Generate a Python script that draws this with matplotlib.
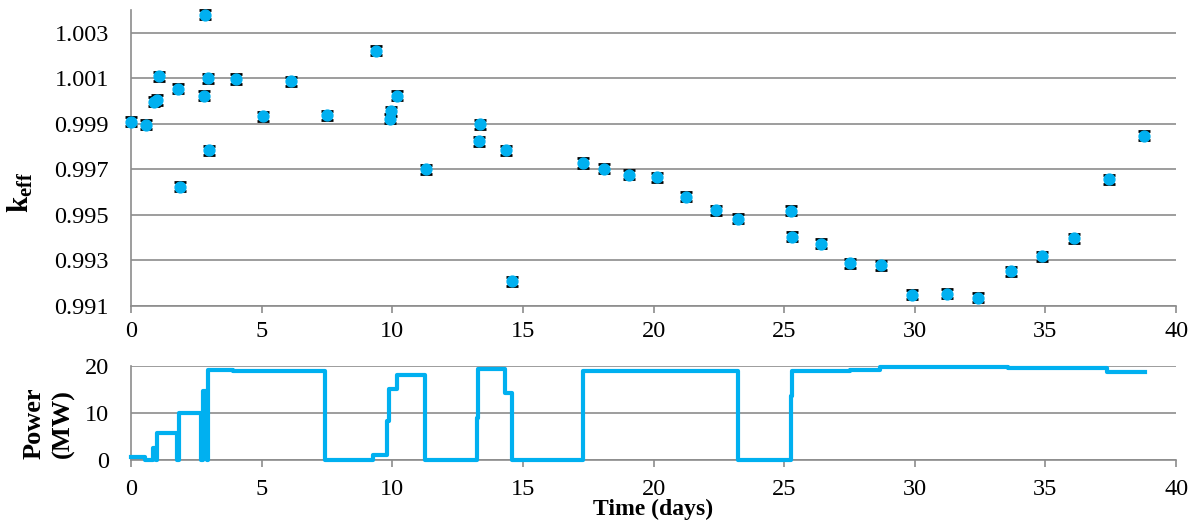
import matplotlib
matplotlib.use("Agg")
import matplotlib.pyplot as plt

plt.rcParams['font.family'] = ['Liberation Serif', 'DejaVu Serif']
plt.rcParams['mathtext.fontset'] = 'custom'
plt.rcParams['mathtext.rm'] = 'Liberation Serif'
plt.rcParams['mathtext.bf'] = 'Liberation Serif:bold'

# k_eff measurements (days, value)
k_time = [0, 0.57, 0.89, 1.0, 1.08, 1.79, 1.89, 2.78, 2.83, 2.93, 2.97, 4.02, 5.05,
          6.11, 7.49, 9.39, 9.91, 9.95, 10.17, 11.28, 13.31, 13.36, 14.35, 14.6,
          17.29, 18.1, 19.06, 20.15, 21.23, 22.4, 23.23, 25.26, 25.3, 26.4, 27.53,
          28.72, 29.91, 31.22, 32.42, 33.68, 34.88, 36.1, 37.42, 38.78]
k_eff = [0.99910, 0.99896, 0.99998, 1.00005, 1.00109, 1.00055, 0.99623, 1.00023,
         1.00379, 1.00101, 0.99784, 1.00097, 0.99934, 1.00088, 0.99938, 1.00221,
         0.99923, 0.99956, 1.00024, 0.99700, 0.99823, 0.99899, 0.99784, 0.99209,
         0.99728, 0.99703, 0.99677, 0.99665, 0.99580, 0.99521, 0.99484, 0.99518,
         0.99405, 0.99373, 0.99288, 0.99278, 0.99149, 0.99153, 0.99136, 0.99253,
         0.99318, 0.99398, 0.99656, 0.99847]
k_err = 0.0002

# power history (step changes)
p_time = [0, 0.54, 0.86, 0.95, 1.0, 1.75, 1.85, 2.68, 2.77, 2.9, 2.96, 3.9, 7.43,
          9.27, 9.81, 9.86, 10.17, 11.25, 13.23, 13.29, 14.32, 14.57, 17.29, 23.25,
          25.25, 25.3, 27.52, 28.67, 29.93, 31.08, 33.57, 34.8, 36.13, 37.35, 38.8]
p_mw = [0.7, 0, 2.5, 0, 5.8, 0, 10.0, 0, 14.7, 0, 19.1, 18.8, 0,
        1.1, 8.2, 15.0, 18.1, 0, 8.9, 19.3, 14.2, 0, 18.8, 0,
        13.5, 18.9, 19.1, 19.7, 19.8, 19.8, 19.5, 19.6, 19.6, 18.65, 18.65]

blue = '#00B0F0'
gray = '#8C8C8C'

fig = plt.figure(figsize=(11.94, 5.22), dpi=100)
ax1 = fig.add_axes([0.1097, 0.4138, 0.8753, 0.567])
ax2 = fig.add_axes([0.1097, 0.1188, 0.8753, 0.1806])

ax1.errorbar(k_time, k_eff, yerr=k_err, fmt='none', ecolor='black',
             elinewidth=1.2, capsize=4.5, capthick=2, clip_on=False, zorder=3)
ax1.plot(k_time, k_eff, 'o', color=blue, ms=7.8, mec=blue, clip_on=False, zorder=4)
ax1.set_xlim(0, 40)
ax1.set_ylim(0.991, 1.004)
ax1.set_yticks([0.991, 0.993, 0.995, 0.997, 0.999, 1.001, 1.003])
ax1.set_yticklabels(['0.991', '0.993', '0.995', '0.997', '0.999', '1.001', '1.003'])
ax1.set_xticks(range(0, 41, 5))
ax1.set_ylabel(r'$\mathbf{k_{eff}}$', fontsize=21)
ax1.yaxis.set_label_coords(-0.092, 0.385)

ax2.plot(p_time, p_mw, drawstyle='steps-post', color=blue, lw=3,
         clip_on=False, zorder=3)
ax2.set_xlim(0, 40)
ax2.set_ylim(0, 20)
ax2.set_yticks([0, 10, 20])
ax2.set_xticks(range(0, 41, 5))
ax2.set_ylabel('Power\n(MW)', fontsize=19, fontweight='bold', linespacing=1.3)
ax2.yaxis.set_label_coords(-0.054, 0.39)
ax2.set_xlabel('Time (days)', fontsize=17, fontweight='bold', labelpad=-1)

for ax in (ax1, ax2):
    for s in ('top', 'right'):
        ax.spines[s].set_visible(False)
    for s in ('left', 'bottom'):
        ax.spines[s].set_color(gray)
        ax.spines[s].set_linewidth(1.2)
    ax.grid(axis='y', color=gray, lw=1.2)
    ax.set_axisbelow(True)
    ax.tick_params(axis='both', colors=gray, labelcolor='black', labelsize=17.5,
                   length=5, width=1.2, direction='out')
    ax.tick_params(axis='y', length=0, pad=16)
ax1.tick_params(axis='x', pad=6)
ax2.tick_params(axis='x', pad=9)

fig.savefig('out.png', dpi=100)
